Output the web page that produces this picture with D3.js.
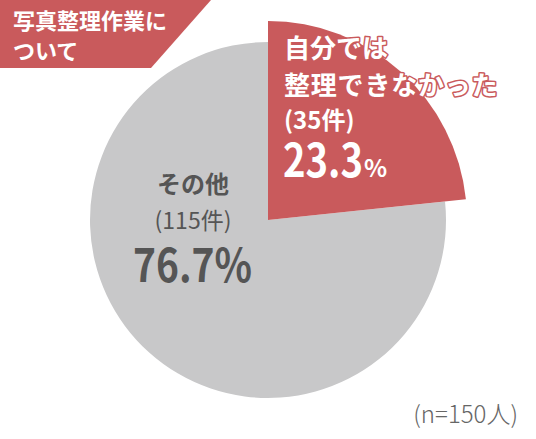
<!DOCTYPE html>
<html lang="ja">
<head>
  <meta charset="utf-8">
  <title>写真整理作業について</title>
  <script src="https://d3js.org/d3.v7.min.js"></script>
  <style>
    body { margin: 0; background: #fff; }
    text { font-family: "Noto Sans CJK JP", "Noto Sans", sans-serif; }
  </style>
</head>
<body>
  <script>
    // データ
    var categories = ['自分では整理できなかった', 'その他'];
    var counts = [35, 115];
    var percents = ['23.3', '76.7'];
    var colors = ['#c95a5c', '#c8c8c9'];
    var total = 150;

    var w = 536, h = 439;
    var cx = 268, cy = 220;

    var svg = d3.select('body').append('svg')
      .attr('width', w)
      .attr('height', h);

    // 左上のタイトル帯
    svg.append('path')
      .attr('d', 'M0,0 L211,0 L151,68 L0,68 Z')
      .attr('fill', colors[0]);
    var title = svg.append('text')
      .attr('fill', '#fff')
      .attr('font-weight', 700)
      .attr('font-size', 22);
    title.append('tspan').attr('x', 13).attr('y', 29).text('写真整理作業に');
    title.append('tspan').attr('x', 13).attr('y', 59).text('ついて');

    var pie = d3.pie().sort(null).value(function (d) { return d; });
    var arcs = pie(counts);

    // 赤い扇形は半径を大きくして強調
    var radius = [199, 178];
    var g = svg.append('g').attr('transform', 'translate(' + [cx, cy] + ')');
    // 灰色を先に、赤を上に描く
    [1, 0].forEach(function (i) {
      g.append('path')
        .attr('d', d3.arc().innerRadius(0).outerRadius(radius[i])(arcs[i]))
        .attr('fill', colors[i]);
    });

    // 赤い扇形のラベル
    function redText(x, y, size) {
      return svg.append('text')
        .attr('x', x).attr('y', y)
        .attr('font-size', size)
        .attr('fill', '#fff')
        .attr('stroke', colors[0])
        .attr('stroke-width', 3)
        .attr('stroke-linejoin', 'round')
        .attr('paint-order', 'stroke')
        .attr('font-weight', 700);
    }
    redText(284, 58, 26).text('自分では');
    redText(284, 95, 26).attr('letter-spacing', 0.8).text('整理できなかった');
    redText(284, 129, 24).text('(' + counts[0] + '件)');
    // 細めの数字に見せるため横方向に詰める
    var pct = redText(283, 177, 46);
    pct.append('tspan')
      .attr('textLength', 80).attr('lengthAdjust', 'spacingAndGlyphs')
      .text(percents[0]);
    pct.append('tspan').attr('font-size', 24).attr('dx', 1).text('%');

    // 灰色の扇形のラベル
    function grayText(y, size, weight) {
      return svg.append('text')
        .attr('x', 193).attr('y', y)
        .attr('text-anchor', 'middle')
        .attr('fill', '#555')
        .attr('font-size', size)
        .attr('font-weight', weight);
    }
    grayText(193, 24, 700).text(categories[1]);
    grayText(229, 23, 400).text('(' + counts[1] + '件)');
    svg.append('text')
      .attr('x', 133).attr('y', 282)
      .attr('fill', '#555')
      .attr('font-size', 46)
      .attr('font-weight', 700)
      .attr('textLength', 119).attr('lengthAdjust', 'spacingAndGlyphs')
      .text(percents[1] + '%');

    svg.append('text')
      .attr('x', 518)
      .attr('y', 423)
      .attr('text-anchor', 'end')
      .attr('fill', '#666')
      .attr('font-size', 24)
      .attr('font-weight', 300)
      .text('(n=' + total + '人)');
  </script>
</body>
</html>
